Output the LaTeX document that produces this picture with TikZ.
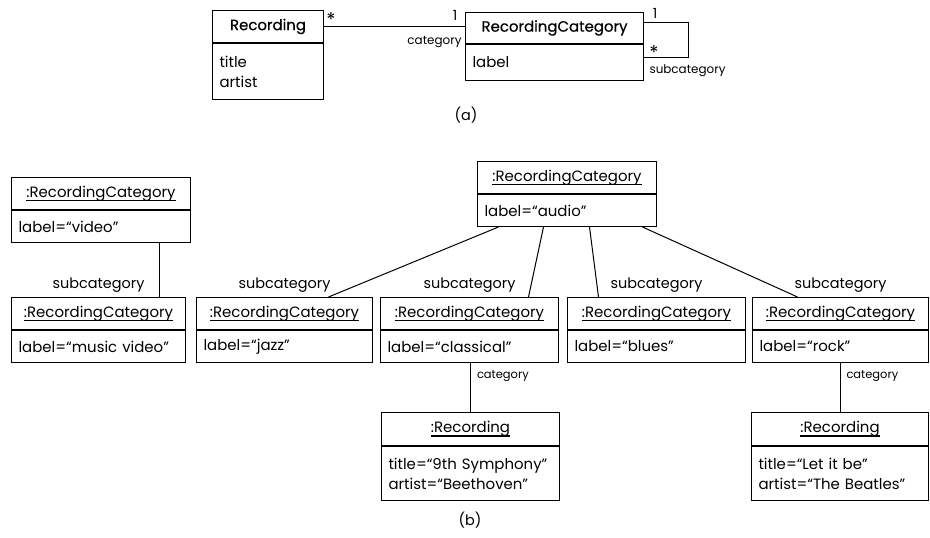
\documentclass[tikz,border=0pt]{standalone}
\usepackage{fontspec}
\setmainfont{Poppins}
\newfontfamily\hdrfont{Poppins}[FakeBold=0.5]
\usetikzlibrary{calc}
\newcommand\myul[1]{\setbox0\hbox{#1}\rlap{\rule[-4bp]{\wd0}{1.5bp}}\box0}
\tikzset{
  box/.style={draw, inner sep=0pt, anchor=north west, font=\fontsize{15}{20}\selectfont},
  attr/.style={box, align=left, text width=#1},
  lblb/.style={font=\fontsize{14.5}{16}\selectfont, inner sep=0pt},
  lbla/.style={font=\fontsize{12}{14}\selectfont, inner sep=0pt},
  lblc/.style={font=\fontsize{11.5}{13}\selectfont, inner sep=0pt},
  mult/.style={font=\fontsize{14}{16}\selectfont, inner sep=0pt},
  star/.style={font=\fontsize{19}{20}\selectfont, inner sep=0pt},
}
\begin{document}
\begin{tikzpicture}[x=1bp,y=-1bp,line width=1bp]
\useasboundingbox (0,0) rectangle (930,538);
% ---------- (a) ----------
\node[box, minimum width=111bp, minimum height=32bp] (aRecH) at (212,10) {\hdrfont Recording};
\node[attr=97bp, minimum width=111bp, minimum height=56bp] (aRecA) at (aRecH.south west) {title\\artist};
\node[box, minimum width=178bp, minimum height=31bp] (aCatH) at (465,12) {\hdrfont RecordingCategory};
\node[attr=164bp, minimum width=178bp, minimum height=36bp] (aCatA) at (aCatH.south west) {label};
\draw (aRecH.east) -- (aRecH.east -| aCatH.west);
\node[star] (m1) at ($(aRecH.east)+(7,-7)$) {*};
\node[mult] (m2) at ($(aCatH.west)+(-10,-13)$) {1};
\node[lbla, anchor=east] (rc) at ($(aCatH.west)+(-3,14)$) {category};
\coordinate (lt) at ([yshift=-11bp]aCatH.north east);
\coordinate (lb) at ([yshift=-14bp]aCatA.north east);
\draw (lt) -- ++(44,0) |- (lb);
\node[mult] (m3) at ($(lt)+(11,-10)$) {1};
\node[star] (m4) at ($(lb)+(10,-5)$) {*};
\node[lbla, anchor=west] (rs) at ($(lb)+(5,13)$) {subcategory};
\node[lblb] (capa) at (466,115) {(a)};
% ---------- (b) ----------
\node[box, minimum width=179bp, minimum height=32bp] (vidH) at (11,177) {\myul{:RecordingCategory}};
\node[attr=165bp, minimum width=179bp, minimum height=32bp] (vidA) at (vidH.south west) {label=“video”};
\node[box, minimum width=179bp, minimum height=32bp] (audH) at (477,161) {\myul{:RecordingCategory}};
\node[attr=165bp, minimum width=179bp, minimum height=32bp] (audA) at (audH.south west) {label=“audio”};
\node[box, minimum width=174bp, minimum height=32bp] (musH) at (11,297) {\myul{:RecordingCategory}};
\node[attr=160bp, minimum width=174bp, minimum height=32bp] (musA) at (musH.south west) {label=“music video”};
\node[box, minimum width=176bp, minimum height=32bp] (jazH) at (196,297) {\myul{:RecordingCategory}};
\node[attr=162bp, minimum width=176bp, minimum height=32bp] (jazA) at (jazH.south west) {label=“jazz”};
\node[box, minimum width=178bp, minimum height=32bp] (claH) at (380,297) {\myul{:RecordingCategory}};
\node[attr=164bp, minimum width=178bp, minimum height=32bp] (claA) at (claH.south west) {label=“classical”};
\node[box, minimum width=178bp, minimum height=32bp] (bluH) at (567,297) {\myul{:RecordingCategory}};
\node[attr=164bp, minimum width=178bp, minimum height=32bp] (bluA) at (bluH.south west) {label=“blues”};
\node[box, minimum width=176bp, minimum height=32bp] (rocH) at (752,297) {\myul{:RecordingCategory}};
\node[attr=162bp, minimum width=176bp, minimum height=32bp] (rocA) at (rocH.south west) {label=“rock”};
\node[box, minimum width=178bp, minimum height=33bp] (r1H) at (381,412) {\myul{:Recording}};
\node[attr=164bp, minimum width=178bp, minimum height=54bp] (r1A) at (r1H.south west) {title=“9th Symphony”\\artist=“Beethoven”};
\node[box, minimum width=177bp, minimum height=33bp] (r2H) at (751,412) {\myul{:Recording}};
\node[attr=163bp, minimum width=177bp, minimum height=54bp] (r2A) at (r2H.south west) {title=“Let it be”\\artist=“The Beatles”};
% connectors
\draw ([xshift=58bp]vidA.south) -- ([xshift=58bp]vidA.south |- musH.north);
\draw ([xshift=-68.5bp]audA.south) -- ([xshift=44bp]jazH.north);
\draw ([xshift=-23.5bp]audA.south) -- ([xshift=59bp]claH.north);
\draw ([xshift=22.5bp]audA.south) -- ([xshift=-58bp]bluH.north);
\draw ([xshift=75.5bp]audA.south) -- ([xshift=-43bp]rocH.north);
\draw (r1H.north) -- (r1H.north |- claA.south);
\draw (r2H.north) -- (r2H.north |- rocA.south);
% labels
\node[lblb, anchor=base] (s1) at ([yshift=8bp]musH.north) {subcategory};
\node[lblb, anchor=base] (s2) at ([yshift=8bp]jazH.north) {subcategory};
\node[lblb, anchor=base] (s3) at ([yshift=8bp]claH.north) {subcategory};
\node[lblb, anchor=base] (s4) at ([yshift=8bp]bluH.north) {subcategory};
\node[lblb, anchor=base] (s5) at ([yshift=8bp]rocH.north) {subcategory};
\node[lblc, anchor=base west] (c1) at ($(r1H.north |- claA.south)+(6,15)$) {category};
\node[lblc, anchor=base west] (c2) at ($(r2H.north |- rocA.south)+(6,15)$) {category};
\node[lblb] (capb) at (470,520) {(b)};
\end{tikzpicture}
\end{document}
